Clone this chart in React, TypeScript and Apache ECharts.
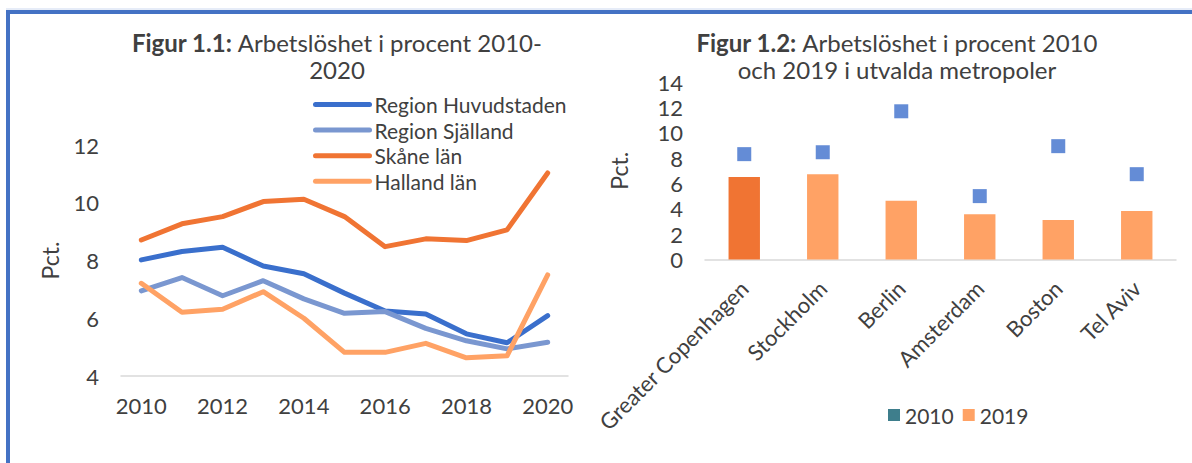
import React, { useEffect, useRef } from "react";
import * as echarts from "echarts";

const years = ["2010", "2011", "2012", "2013", "2014", "2015", "2016", "2017", "2018", "2019", "2020"];
const huvudstaden = [8.02, 8.31, 8.46, 7.81, 7.54, 6.87, 6.25, 6.15, 5.46, 5.15, 6.09];
const sjaelland = [6.95, 7.41, 6.78, 7.3, 6.67, 6.17, 6.23, 5.65, 5.22, 4.94, 5.17];
const skaane = [8.71, 9.27, 9.52, 10.04, 10.12, 9.52, 8.48, 8.75, 8.69, 9.06, 11.03];
const halland = [7.21, 6.21, 6.31, 6.92, 6.0, 4.82, 4.82, 5.13, 4.63, 4.7, 7.5];

const cities = ["Greater Copenhagen", "Stockholm", "Berlin", "Amsterdam", "Boston", "Tel Aviv"];
const rate2019 = [6.5, 6.73, 4.63, 3.56, 3.11, 3.82];
const rate2010 = [8.31, 8.46, 11.69, 5.0, 8.94, 6.73];

const FONT = "Lato";
const TXT = "#404040";

export default function App() {
  const ref = useRef<HTMLDivElement>(null);
  useEffect(() => {
    if (!ref.current) return;
    const chart = echarts.init(ref.current, null, { renderer: "svg" });
    const lineSeries = (name: string, data: number[], color: string) => ({
      type: "line",
      name,
      data,
      xAxisIndex: 0,
      yAxisIndex: 0,
      symbol: "none",
      showSymbol: false,
      lineStyle: { color, width: 5, cap: "round", join: "round" },
      itemStyle: { color },
    });
    const titleStyle = {
      fontFamily: FONT,
      fontSize: 24,
      fontWeight: "normal",
      color: TXT,
      lineHeight: 27,
      rich: { b: { fontFamily: FONT, fontSize: 24, fontWeight: "bold", color: TXT, lineHeight: 27 } },
    };
    chart.setOption({
      animation: false,
      textStyle: { fontFamily: FONT },
      title: [
        {
          text: "{b|Figur 1.1:} Arbetslöshet i procent 2010-\n2020",
          left: 337,
          top: 29,
          padding: 0,
          textAlign: "center",
          textStyle: titleStyle,
        },
        {
          text: "{b|Figur 1.2:} Arbetslöshet i procent 2010\noch 2019 i utvalda metropoler",
          left: 897,
          top: 29,
          padding: 0,
          textAlign: "center",
          textStyle: titleStyle,
        },
      ],
      legend: [
        {
          selectedMode: false,
          orient: "vertical",
          left: 313,
          top: 94,
          padding: 0,
          itemWidth: 54,
          itemHeight: 21,
          itemGap: 4.6,
          lineStyle: { width: 5, cap: "round" },
          itemStyle: { color: "rgba(0,0,0,0)", opacity: 0, borderWidth: 0 },
          textStyle: { fontFamily: FONT, fontSize: 21, color: TXT },
          data: ["Region Huvudstaden", "Region Själland", "Skåne län", "Halland län"],
        },
        {
          selectedMode: false,
          orient: "horizontal",
          left: 888,
          top: 404,
          padding: 0,
          icon: "rect",
          itemWidth: 12,
          itemHeight: 12,
          itemGap: 9,
          textStyle: { fontFamily: FONT, fontSize: 21, color: TXT, lineHeight: 22 },
          data: [
            { name: "2010", itemStyle: { color: "#0e5e6f" } },
            { name: "2019", itemStyle: { color: "#ffa265" } },
          ],
        },
      ],
      grid: [
        { left: 121, top: 145, width: 447, height: 231 },
        { left: 705, top: 82, width: 471, height: 177.5 },
      ],
      xAxis: [
        {
          type: "category",
          gridIndex: 0,
          data: years,
          boundaryGap: true,
          axisTick: { show: false },
          axisLine: { lineStyle: { color: "#d9d9d9", width: 1.5 } },
          axisLabel: { interval: 1, fontFamily: FONT, fontSize: 22, color: TXT, margin: 18 },
        },
        {
          type: "category",
          gridIndex: 1,
          data: cities,
          boundaryGap: true,
          axisTick: { show: false },
          axisLine: { lineStyle: { color: "#d9d9d9", width: 1.5 } },
          axisLabel: { interval: 0, rotate: 45, fontFamily: FONT, fontSize: 22, color: TXT, margin: 25 },
        },
      ],
      yAxis: [
        {
          type: "value",
          gridIndex: 0,
          min: 4,
          max: 12,
          interval: 2,
          splitLine: { show: false },
          axisLine: { show: false },
          axisTick: { show: false },
          axisLabel: { fontFamily: FONT, fontSize: 22, color: TXT, margin: 22 },
          name: "Pct.",
          nameLocation: "middle",
          nameGap: 60,
          nameTextStyle: { fontFamily: FONT, fontSize: 23, color: TXT },
        },
        {
          type: "value",
          gridIndex: 1,
          min: 0,
          max: 14,
          interval: 2,
          splitLine: { show: false },
          axisLine: { show: false },
          axisTick: { show: false },
          axisLabel: { fontFamily: FONT, fontSize: 22, color: TXT, margin: 22 },
          name: "Pct.",
          nameLocation: "middle",
          nameGap: 75,
          nameTextStyle: { fontFamily: FONT, fontSize: 23, color: TXT },
        },
      ],
      series: [
        lineSeries("Region Huvudstaden", huvudstaden, "#3a6fcc"),
        lineSeries("Region Själland", sjaelland, "#7a97d0"),
        lineSeries("Skåne län", skaane, "#f07433"),
        lineSeries("Halland län", halland, "#ffa265"),
        {
          type: "scatter",
          name: "2010",
          xAxisIndex: 1,
          yAxisIndex: 1,
          symbol: "rect",
          symbolSize: 14,
          itemStyle: { color: "#3d6fcc" },
          data: rate2010,
        },
        {
          type: "bar",
          name: "2019",
          xAxisIndex: 1,
          yAxisIndex: 1,
          barWidth: "40%",
          itemStyle: { color: "#ffa265" },
          data: rate2019.map((v, i) => (i === 0 ? { value: v, itemStyle: { color: "#f07433" } } : v)),
        },
      ],
      graphic: [
        {
          type: "line",
          shape: { x1: 6, y1: 9, x2: 1192, y2: 9 },
          style: { stroke: "#cdd9f0", lineWidth: 1 },
          silent: true,
        },
        {
          type: "rect",
          shape: { x: 8, y: 12, width: 1200, height: 480 },
          style: { fill: "none", stroke: "#4472c4", lineWidth: 4 },
          silent: true,
        },
      ],
    });
    return () => chart.dispose();
  }, []);
  return (
    <div
      ref={ref}
      style={{ position: "absolute", left: 0, top: 0, width: 1192, height: 463, background: "#fff" }}
    />
  );
}
